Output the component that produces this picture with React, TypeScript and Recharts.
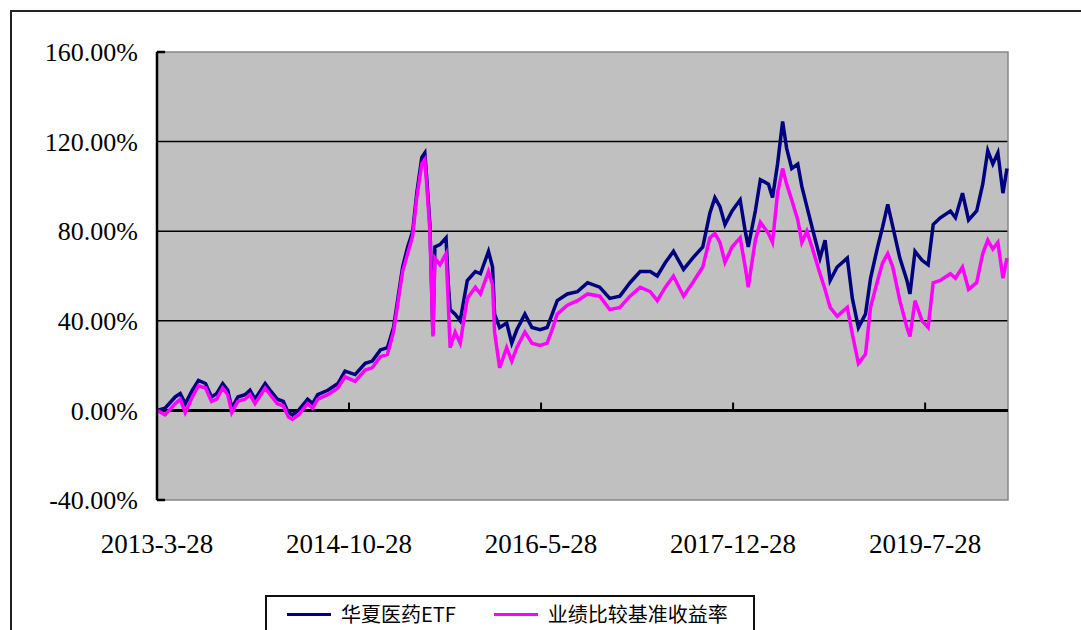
import React from 'react';
import { LineChart, Line, XAxis, YAxis, CartesianGrid, ReferenceLine, ReferenceArea } from 'recharts';

// months since 2013-3-28
const months = [
  0, 0.8, 1.8, 2.3, 2.8, 3.5, 4.1, 4.8, 5.4, 5.9, 6.5, 7.0, 7.4, 8.0, 8.7, 9.2, 9.7, 10.7, 11.2, 11.9,
  12.5, 13.0, 13.4, 14.0, 14.9, 15.4, 15.9, 16.9, 17.9, 18.6, 19.6, 20.6, 21.3, 22.1, 22.8, 23.4, 23.8,
  24.3, 24.8, 25.3, 25.7, 26.2, 26.5, 26.7, 27.0, 27.3, 27.5, 28.0, 28.6, 28.8, 29.0, 29.5, 30.0, 30.7,
  31.5, 32.0, 32.8, 33.2, 33.4, 33.9, 34.6, 35.1, 35.6, 36.4, 37.1, 37.9, 38.6, 39.1, 39.6, 40.6, 41.6,
  42.6, 43.8, 44.8, 45.8, 46.8, 47.8, 48.8, 49.5, 50.3, 51.1, 52.1, 53.0, 54.0, 54.7, 55.2, 55.7, 56.2,
  56.9, 57.7, 58.2, 58.5, 59.2, 59.7, 60.5, 60.9, 61.4, 61.9, 62.3, 62.8, 63.4, 63.8, 64.3, 64.8, 65.6,
  66.1, 66.6, 67.3, 68.3, 68.8, 69.4, 70.1, 70.6, 71.3, 71.8, 72.3, 72.8, 73.5, 74.2, 74.5, 75.0, 75.7,
  76.3, 76.8, 77.5, 78.5, 79.0, 79.7, 80.3, 81.1, 81.7, 82.2, 82.7, 83.2, 83.7, 84.1,
];

const etfValues = [
  0, 1, 6, 7.5, 3, 9, 13.4, 12, 6, 7.5, 12, 9, 1, 6, 7, 9, 5, 12, 9, 5,
  4, -1, -2, 0, 5, 3, 7, 9, 12, 17.5, 16, 21, 22, 27, 28, 37, 49,
  64, 73, 80, 97, 113, 115, 103, 83, 34, 73, 74, 77, 58, 45, 43, 40, 58,
  62, 61, 71, 64, 43, 37, 39, 30, 36, 43, 37, 36, 37, 43, 49, 52, 53,
  57, 55, 50, 51, 57, 62, 62, 60, 66, 71, 63, 68, 73, 88, 95, 91, 83,
  89, 94, 80, 73, 89, 103, 101, 95, 110, 129, 117, 108, 110, 100, 91, 82, 68,
  76, 58, 64, 68, 50, 37, 43, 59, 73, 82, 92, 82, 68, 58, 52, 71, 67,
  65, 83, 86, 89, 86, 97, 85, 89, 101, 116, 110, 115, 97, 108,
];

const benchValues = [
  0, -2, 3, 5, -1, 6, 11, 10, 4, 5, 10, 7, -1, 4, 5, 7, 3, 10, 7, 3,
  2, -3, -4, -2, 3, 1, 5, 7, 10, 15, 13, 18, 19, 24, 25, 35, 47,
  62, 70, 78, 95, 110, 112, 100, 80, 33, 68, 65, 70, 50, 28, 35, 30, 50,
  55, 52, 62, 56, 35, 19, 28, 22, 28, 35, 30, 29, 30, 36, 43, 47, 49,
  52, 51, 45, 46, 51, 55, 53, 49, 55, 60, 51, 57, 64, 77, 79, 75, 66,
  73, 77, 64, 55, 76, 84, 79, 75, 97, 108, 101, 94, 85, 75, 80, 73, 61,
  54, 46, 42, 46, 34, 21, 25, 46, 58, 66, 70, 64, 49, 37, 33, 49, 40,
  37, 57, 58, 61, 59, 64, 54, 57, 70, 76, 72, 75, 59, 68,
];

const xTicks = [0, 19, 38, 57, 76];
const xLabels = ['2013-3-28', '2014-10-28', '2016-5-28', '2017-12-28', '2019-7-28'];
const yTicks = [-40, 0, 40, 80, 120, 160];
const gridValues = [40, 80, 120];

const series = [
  { key: 'etf', name: '华夏医药ETF', color: '#000080' },
  { key: 'bench', name: '业绩比较基准收益率', color: '#FF00FF' },
];

const data = months.map((m, i) => ({ m, etf: etfValues[i], bench: benchValues[i] }));

const font = '"Liberation Serif", "Times New Roman", serif';

const XTick = (props: any) => {
  const { x, y, payload } = props;
  const idx = xTicks.indexOf(payload.value);
  return (
    <text x={x} y={y} dy={53} textAnchor="middle" fontFamily={font} fontSize={27} fill="#000">
      {xLabels[idx]}
    </text>
  );
};

export default function App() {
  return (
    <div style={{ position: 'absolute', left: 0, top: 0, width: 1081, height: 630, overflow: 'hidden', background: '#fff' }}>
      <div style={{ position: 'absolute', left: 10, top: 10, width: 1100, height: 700, border: '2px solid #222' }} />
      <div style={{ position: 'absolute', left: 0, top: 0 }}>
        <LineChart width={1081} height={630} data={data} margin={{ top: 52, right: 73, left: 0, bottom: 0 }}>
          <CartesianGrid
            vertical={false}
            horizontalValues={gridValues}
            stroke="#000"
            strokeWidth={1.5}
            fill="#C0C0C0"
            fillOpacity={1}
          />
          <ReferenceArea x1={0} x2={84.2} y1={-40} y2={160} fill="none" stroke="#888" strokeWidth={1.5} />
          <XAxis
            dataKey="m"
            type="number"
            domain={[0, 84.2]}
            ticks={xTicks}
            tick={<XTick />}
            tickSize={0}
            tickMargin={0}
            axisLine={false}
            tickLine={false}
            height={130}
            interval={0}
          />
          <YAxis
            type="number"
            domain={[-40, 160]}
            ticks={yTicks}
            width={157}
            tickSize={0}
            tickMargin={19}
            tickLine={false}
            axisLine={{ stroke: '#000', strokeWidth: 2.5 }}
            tickFormatter={(v: number) => v.toFixed(2) + '%'}
            tick={{ fill: '#000', fontSize: 26, fontFamily: font }}
            interval={0}
          />
          <ReferenceLine y={0} stroke="#000" strokeWidth={3} />
          {xTicks.slice(1).map((t) => (
            <ReferenceLine key={t} segment={[{ x: t, y: 0 }, { x: t, y: 3.5 }]} stroke="#000" strokeWidth={2} />
          ))}
          <ReferenceLine segment={[{ x: 0, y: 160 }, { x: 0.8, y: 160 }]} stroke="#000" strokeWidth={2.5} />
          <ReferenceLine segment={[{ x: 0, y: -40 }, { x: 0.8, y: -40 }]} stroke="#000" strokeWidth={2.5} />
          {series.map((s) => (
            <Line
              key={s.key}
              type="linear"
              dataKey={s.key}
              name={s.name}
              stroke={s.color}
              strokeWidth={3.5}
              dot={false}
              isAnimationActive={false}
            />
          ))}
        </LineChart>
      </div>
      <div
        style={{
          position: 'absolute',
          left: 265,
          top: 595,
          width: 490,
          height: 60,
          border: '2px solid #111',
          background: '#fff',
          display: 'flex',
          alignItems: 'flex-start',
          paddingTop: 5,
          boxSizing: 'border-box',
        }}
      >
        {series.map((s, i) => (
          <div key={s.key} style={{ display: 'flex', alignItems: 'center', marginLeft: i === 0 ? 20 : 38 }}>
            <div style={{ width: 44, height: 3, background: s.color, marginRight: 10 }} />
            <span style={{ fontFamily: '"Noto Sans CJK SC", sans-serif', fontSize: 20, color: '#000', lineHeight: '24px' }}>
              {s.name}
            </span>
          </div>
        ))}
      </div>
    </div>
  );
}
